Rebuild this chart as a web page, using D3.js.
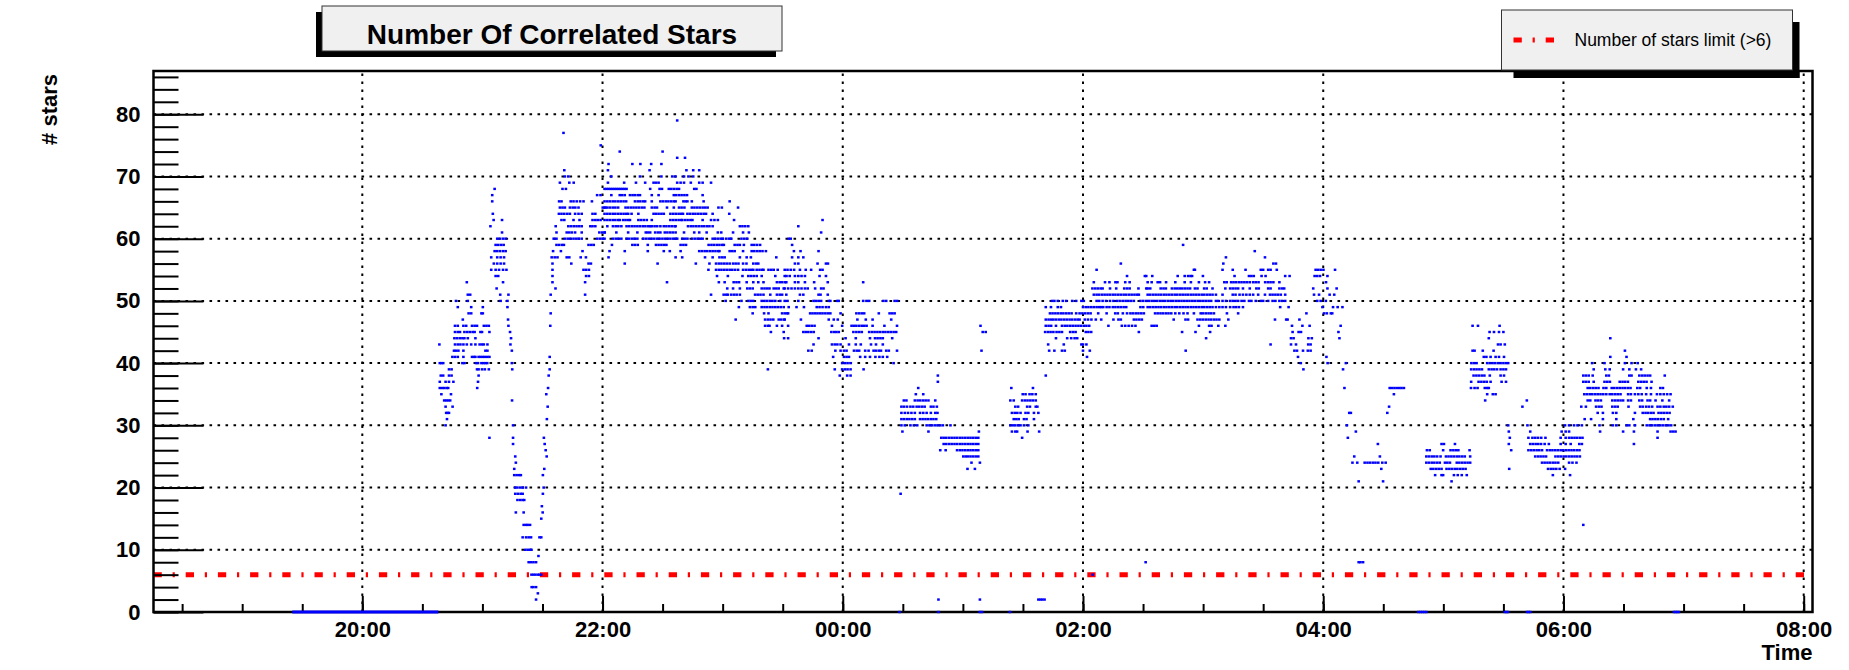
<!DOCTYPE html>
<html>
<head>
<meta charset="utf-8">
<script src="https://cdn.jsdelivr.net/npm/d3@7"></script>
<style>
  html, body { margin: 0; padding: 0; background: #ffffff; }
  svg { display: block; }
</style>
</head>
<body>
<svg id="chart" width="1849" height="670"></svg>
<script>
// ---------------- DATA ----------------
// Times are minutes after 18:00 (so 20:00 = 120, 00:00 = 360, 06:00 = 720).
// Each row: [number of stars, [times at which that value was recorded]]
const titleText = "Number Of Correlated Stars";
const legendLabel = "Number of stars limit (>6)";
const xTitle = "Time";
const yTitle = "# stars";
const xTickLabels = ["20:00", "22:00", "00:00", "02:00", "04:00", "06:00", "08:00"];
const yTickValues = [0, 10, 20, 30, 40, 50, 60, 70, 80];
const xDomainMinutes = [15.7, 844.4];
const yMax = 86.95;
const limitValue = 6;
const limitRangeMinutes = [15.7, 841.7];

// runs of consecutive zero readings: [start, end]
const zeroRuns = [[85, 158]];

// isolated low readings
const lowReadings = [
  [14, [729.9]],
  [8, [511.3, 617.7, 618.6, 619.9]],
  [6, [484.8]],
  [2, [407.8, 428.5, 457.7, 458.7, 459.7, 460.8]],
  [0, [388.4, 407.8, 428.5, 429.5, 443.5, 647.5, 648.5, 649.5, 650.5, 651.5, 690.7, 691.5, 692.2, 701.8, 702.6, 703.4, 775.2, 776, 776.8, 777.6]]
];

// 20:30 - 22:00
const evening = [
  [77, [220.5]], [75, [239.1]], [71, [220.9]], [70, [221.2, 222.9]], [69, [218.7, 223.4, 225.6]],
  [68, [186.1, 220, 221.7]], [67, [184.9, 237.3, 239]],
  [66, [184.9, 218.3, 219.5, 224.1, 225.5, 227.1, 228.8, 230.5, 234.7]],
  [65, [218.7, 220, 221.2, 223.7, 225.1, 226.4, 228, 240.1, 241.4]],
  [64, [185.2, 218.2, 219.5, 220.9, 222.4, 223.7, 226.3, 228, 229.6, 235, 236.4]],
  [63, [185.6, 189.8, 219.5, 220.9, 225.5, 228.5, 235, 236.4, 237.6, 239]],
  [62, [184, 216.6, 222.9, 224.2, 225.6, 227, 228.3, 229.6, 233.9, 235, 236.4]],
  [61, [189.8, 217, 222.1, 223.4, 224.7, 226.3, 229.6, 238.4, 239.8, 241.1]],
  [60, [187.4, 188.8, 190.3, 191.6, 215.6, 217, 221.2, 222.6, 223.9, 225.5, 226.8, 228.1, 229.6, 237.4, 238.8, 240.1]],
  [59, [186.6, 187.9, 189.3, 190.6, 217, 218.3, 219.7, 220.7, 233, 234.4, 235.6]],
  [58, [186.1, 187.4, 188.8, 190.3, 191.6, 215.3, 219.2, 230]],
  [57, [184.4, 187.4, 189.1, 190.8, 214.6, 216.1, 217.5, 222.1, 223.4, 229.1, 231.7]],
  [56, [185.7, 187.4, 189.1, 190.8, 215, 224.4, 233, 234.2]],
  [55, [184.4, 186.6, 188.3, 190.3, 192, 215, 230.5, 231.8, 233.2]],
  [54, [186.6, 187.9, 215, 231.8, 233.2]],
  [53, [172.2, 190.3, 215, 231.3]],
  [52, [187.1, 216.5]],
  [51, [172.7, 173.9, 188.9, 193, 214.1, 231.3]],
  [50, [166.8, 172.7, 189.1, 192.5]],
  [49, [167.7, 174.4, 180.2, 192.5]],
  [48, [173.1, 174.4, 179.5, 180.2, 214.1]],
  [47, [170.2, 192.8]],
  [46, [166.3, 167.7, 170.5, 171.9, 174.8, 176.1, 177.3, 180.7, 182, 183.2, 193, 213.9]],
  [45, [166.3, 167.7, 168.8, 171, 172.4, 173.7, 175.1, 176.1, 179, 179.8, 183.5, 193.8]],
  [44, [166, 167.3, 168.7, 170, 171, 172.7, 176.5, 194.3]],
  [43, [158.5, 166.3, 167.7, 169, 170.5, 172.2, 174.4, 176.5, 178.6, 179.8, 180.7, 182.5, 194]],
  [42, [165.8, 166.8, 168, 170.5, 181.5, 182.5, 194.7]],
  [41, [165, 166.3, 167.7, 170.5, 174.8, 175.8, 176.5, 178.1, 179.1, 180.2, 181.2, 182.4, 183.5, 213.6]],
  [40, [158.7, 159.5, 160.4, 170, 171, 176.8, 177.8, 179.5, 180.5, 181.5, 182.4, 194.7]],
  [39, [163.3, 164.6, 177.3, 178.1, 179.8, 181.2, 183.2, 194.9, 213.6]],
  [38, [159.2, 160.4, 163.3, 164.6, 178.1, 213.1]],
  [37, [158.7, 161.6, 163.3, 165.5, 177.8]],
  [36, [158.7, 159.9, 160.9, 162.1, 162.9, 177.4, 212.8]],
  [35, [159.5, 164.3, 211.9]],
  [34, [160.9, 161.9, 162.9, 163.9, 194.8]],
  [33, [161.6, 165.1, 212.6]],
  [32, [161.9, 162.6, 163.3]],
  [31, [162.3, 212.2]],
  [30, [161.6, 195.3]],
  [28, [183.5, 195.3, 210.7]],
  [27, [195.3, 211.1]],
  [26, [211.6]],
  [25, [196.4, 212.1]],
  [24, [196.7]],
  [23, [195.9, 210.9]],
  [22, [195.9, 197.1, 198.4, 199.2, 210.2]],
  [20, [196.4, 197.5, 198.9, 200.1, 201.8, 210.6]],
  [19, [196.4, 197.7, 199.1, 200.1, 210.2]],
  [18, [197.5, 198.9, 200.1, 200.9]],
  [17, [209.7]],
  [16, [196.7, 200.6, 210.1]],
  [15, [209.4]],
  [14, [200.6, 201.8, 202.6, 203.8]],
  [12, [200.1, 201.8, 203.1, 204.3, 208.5, 209.4]],
  [10, [201.4, 202.6, 203.8, 204.5]],
  [9, [208]],
  [8, [203.1, 204.3, 205.5, 206.8]],
  [6, [204.5, 205.5, 206.5, 207.7, 208.5, 209.4]],
  [4, [204.6, 205.5, 206.8]],
  [3, [207.7]],
  [2, [206.8]]
];

// 22:00 - 23:30
const lateEvening = [
  [79, [277.3]], [74, [248.6, 270]], [73, [277.3, 281.2]],
  [72, [243, 254.9, 258.9, 264.3, 269.4]],
  [71, [242.7, 263.5, 281.9, 285.3, 288.3]],
  [70, [244.4, 258.7, 269.4, 274.8, 276.5, 280.7, 282.9, 285.3]],
  [69, [242.7, 250.8, 256.7, 261.3, 265.5, 266.7, 268, 277.3, 279, 280.7, 284.1, 288.3, 290, 294.2]],
  [68, [241, 242, 243, 244, 245, 246, 247, 248, 249, 250, 251, 252, 263.8, 268.5, 269.7, 273.1, 274.3, 275.6, 277, 278.2, 285.8, 286.9]],
  [67, [244.4, 248.6, 249.8, 251.1, 253.7, 255, 256.2, 257.6, 258.7, 264.6, 268, 275.6, 276.8, 278.2, 279.5, 280.9, 282.2, 290]],
  [66, [241, 242.4, 243.7, 245.1, 246.4, 247.8, 249.1, 250.5, 251.8, 256.2, 257.6, 258.9, 260.3, 261.3, 264.6, 268.9, 270.2, 271.6, 272.9, 274.3, 275.6, 276.5, 280.4, 281.5, 282.4, 284.6, 290.5, 303.5]],
  [65, [241, 242.4, 243.7, 245.1, 246.4, 247.8, 251.5, 252.8, 254.2, 255.5, 256.9, 258.2, 259.6, 260.9, 264.6, 266, 267.2, 272.2, 275.6, 278.2, 279.5, 280.9, 284.6, 285.9, 287.3, 288.6, 290, 291.3, 292.5, 297.9, 299.6, 307.7]],
  [64, [241, 242.4, 243.7, 245.1, 246.4, 247.8, 249.1, 250.5, 251.8, 252.8, 254.5, 257.9, 265.5, 266.7, 268, 269.4, 270.6, 273.9, 275.3, 276.6, 278, 279.3, 280.2, 282.4, 283.7, 285.1, 286.4, 287.8, 289.1, 290.5, 291.7, 295, 303.3]],
  [63, [241, 242.4, 243.7, 245.1, 246.4, 247.8, 248.6, 250.3, 251.5, 252.8, 253.7, 257.9, 259.2, 260.6, 262.1, 264.6, 273.9, 275.3, 276.6, 278, 279.3, 279.8, 281.2, 282.5, 283.9, 284.9, 290, 294.2, 295.9, 297.6, 305.7]],
  [62, [242.4, 245.2, 246.6, 247.9, 249.4, 252, 253.3, 254.7, 256, 257.4, 258.7, 260.1, 261.4, 262.8, 263.8, 264.6, 266, 267.3, 268.9, 270.6, 271.9, 273.3, 274.6, 276, 276.5, 282.7, 284.1, 285.4, 286.8, 288.1, 289.5, 290.8, 292.2, 293.4, 295, 308.6, 309.9, 311.3, 312.8]],
  [61, [241, 246.9, 252.8, 257.4, 261.6, 262.6, 263.8, 266.3, 267.7, 268.9, 271.1, 272.4, 273.8, 275.1, 276.5, 280.7, 285.8, 288.3, 292, 297.6, 299.3, 305.2, 310.2, 313.1]],
  [60, [241, 245.2, 246.6, 247.9, 249.4, 252, 253.3, 254.7, 256, 257.4, 260.4, 261.8, 263.1, 264.5, 265.8, 267.2, 268.5, 269.9, 271.2, 272.6, 273.9, 275.3, 276.6, 277.3, 279.8, 281.2, 282.4, 284.9, 286.3, 287.6, 289, 290, 295, 296.4, 297.8, 299.1, 300.1, 301.8, 303.2, 304.3, 309.4, 310.8, 312.3]],
  [59, [244.7, 254.9, 256.2, 257.6, 262.6, 266.7, 268, 269.4, 270.7, 271.9, 279, 280.4, 281.7, 293, 294.4, 295.7, 297.1, 298.4, 299.8, 300.6, 306, 307.4, 308.6, 310.6, 314.5, 315.8, 317.2, 318.7]],
  [58, [243.5, 251.1, 262.6, 270.6, 273.6, 279, 288.3, 289.6, 291, 292.3, 293.7, 295, 296.4, 297.8, 298.4, 303.5, 304.8, 306, 310.2, 314.5, 315.8, 317.2, 318.5, 319.9, 321.6]],
  [57, [243, 276.5, 279.8, 291.2, 295, 298.4, 299.8, 301, 308.6, 312, 314.1, 326.8]],
  [56, [251.1, 267.5, 286.6, 293.4, 296.7, 298.1, 299.4, 300.8, 302.1, 303.5, 305.2, 306.5, 307.9, 310.2, 311.9, 315.3, 316.7, 317.8]],
  [55, [292.9, 296.7, 298.1, 299.4, 300.8, 302.1, 303.5, 304.8, 306.2, 307.7, 310.2, 311.6, 313, 314.3, 315.3, 317, 318.4, 319.7, 320.4, 322.9, 324.3, 325.5, 327.5]],
  [54, [297.2, 302.6, 309.9, 312.8, 314.1, 315.5, 317, 319.5, 326.3, 331.9]],
  [53, [272.2, 298.1, 301, 305.5, 306.9, 308.2, 312, 315.3, 317.8, 320.4, 327.1, 328.5, 329.8, 331.2]],
  [52, [302.3, 305.2, 308.6, 312.3, 313.6, 315, 319.5, 320.9, 322.2, 323.4, 325.5, 326.8, 328, 330.5]],
  [51, [294.2, 300.5, 301.8, 302.6, 304.3, 305.7, 307, 308.6, 316.2, 317.5, 318.9, 320.4, 323.8, 327.1, 328.5, 329.7]],
  [50, [301.5, 309.4, 312.8, 314, 315.3, 319.5, 320.9, 322.2, 323.6, 324.9, 326.3, 328.8]],
  [49, [308.1, 313.6, 315, 316.3, 319.5, 320.9, 322.2, 323.6, 324.9, 326.3, 327.6, 329, 330.5]],
  [48, [315, 320.7, 322.9, 329.7, 331, 332.2]],
  [47, [306.5, 321.2, 322.6, 323.9, 325.3, 328, 329.3, 330.7]],
  [46, [321.2, 322.6, 323.4, 327.1, 329.7]],
  [45, [324.1, 330.5]],
  [44, [330.7]],
  [39, [322.6]]
];

// 23:30 - 01:00
const midnight = [
  [63, [349.9]], [62, [337.8]], [61, [349.2]], [60, [333, 334]], [59, [334.7]],
  [58, [335.6, 338.9, 347.9]],
  [57, [334.7, 337.8, 340.3]],
  [56, [336.1, 337.8, 347.4, 351.6, 352.6]],
  [55, [331, 332.4, 334, 335.7, 338.6, 341.5, 344.2, 348.7, 349.9]],
  [54, [331, 333.5, 336.1, 337.8, 339.4, 341.1, 348.4, 351.6]],
  [53, [331.8, 336.1, 337.8, 341.1, 345.7, 352.5, 370.2]],
  [52, [331, 332.7, 334.4, 336.1, 337.8, 339.4, 341.1, 342.5, 346.2, 349.2, 350.4]],
  [51, [331.8, 338.6, 340.3, 347.9, 348.9, 352.5]],
  [50, [331, 332.4, 337.8, 345.4, 346.5, 347.9, 349.2, 353, 353.8, 357.2, 358, 370.2, 371.9, 373.2, 380.3, 381.7, 385.9, 387.2]],
  [49, [333, 336.9, 340.6, 347, 348.4, 349.9, 351.6, 353]],
  [48, [332.7, 343.7, 344.9, 346.2, 347.4, 348.7, 349.9, 351.3, 352.6, 353.8, 358.9, 366.8, 368.2, 369.5, 370.7, 378, 383.4, 384.7, 385.9]],
  [47, [331, 339.1, 353, 355.5, 357.5, 367.3, 371.5, 374.9, 384.2]],
  [46, [332.7, 342, 343.2, 344.5, 345.9, 354.6, 359.7, 364.4, 365.6, 366.8, 368.2, 369.5, 370.7, 371.9, 374.9, 380.8, 387.1]],
  [45, [340.3, 341.5, 342.8, 344.2, 345.5, 354.3, 355.7, 356.8, 358, 365.3, 366.8, 368.2, 369.5, 373.2, 374.6, 375.9, 377.3, 378.6, 380, 381.3, 382.7, 384, 385.4, 386.7]],
  [44, [332.7, 347.9, 361.4, 366.5, 373.6, 376.1, 377.4, 378.8, 380, 384.7]],
  [43, [345.4, 354.6, 356, 357.3, 358.9, 363.1, 366.5, 369, 374.1, 376.6, 380]],
  [42, [342.8, 344.5, 356.3, 358.9, 360.6, 361.9, 365.6, 367, 368.2, 371.2, 372.9, 375.4, 376.6, 378, 379.1, 381.7, 383, 387.1]],
  [41, [355.2, 360.6, 361.9, 363.1, 368.7, 371.2, 373.6, 376.3, 378.3, 380, 382.2]],
  [40, [359.7, 361.1, 362.4, 363.9, 385.4]],
  [39, [356, 359.7, 361.1, 362.4, 363.9, 370.4]],
  [38, [358.5, 362.2, 363.9, 407.5]],
  [37, [407.5]],
  [36, [397.7]],
  [35, [396.5, 400.2]],
  [34, [390.5, 391.8, 396, 397.4, 398.7, 400.1, 401.4, 402.8, 406.2]],
  [33, [389.3, 390.6, 392.1, 393.8, 395.2, 396.9, 398.2, 399.6, 400.9, 404, 405.3, 407]],
  [32, [389.3, 391, 392.6, 394.3, 396, 398.6, 400.2, 401.9, 404, 406.2, 407.3]],
  [31, [389.3, 390.6, 392, 393.3, 394.7, 396, 398.6, 399.9, 401.3, 402.6, 404, 405.3, 406.7]],
  [30, [389.3, 391, 393.8, 395.5, 397.2, 401.9, 403.3, 404.6, 406, 407.3, 408.7, 410, 413.8]],
  [29, [389.8, 402.8]],
  [28, [409.2, 410.4, 411.7, 413.1, 414.4, 415.8, 417.1, 418.5, 419.8]],
  [27, [410.4, 411.7, 413.1, 414.4, 415.8, 417.1, 418.5, 419.8]],
  [26, [408.7, 411.4, 417.1, 418.5, 419.8]],
  [25, [420.2]],
  [19, [388.9]]
];

// 01:00 - 02:30
const night = [
  [56, [498.9]], [55, [486.8]], [54, [502, 511.6]],
  [53, [485.4, 491, 493.2, 496.2, 497.2, 501.1, 503.3]],
  [52, [484.7, 486.1, 487.4, 488.8, 489.8, 493.5, 496.6, 500.6, 502, 503.3, 507.7, 511.6]],
  [51, [485.4, 486.8, 488.1, 489.5, 490.8, 492.2, 493.5, 494.9, 496.2, 497.6, 498.9, 500.3, 501.6, 503, 504.3, 505.7, 507, 507.9]],
  [50, [464.5, 465.7, 467.4, 469.9, 471.6, 474.6, 476.6, 479.2, 480.4, 486.8, 488.1, 489.8, 491.5, 493.5, 495.2, 496.9, 498.3, 499.9, 501.3, 502.6, 504, 505.4, 508.7, 510.1]],
  [49, [461.4, 464, 467.4, 469, 480, 481.4, 482.7, 484.1, 485.4, 486.8, 488.1, 489.1, 490.1, 491.8, 493.2, 494.9, 496.2, 497.6, 498.9, 500.3, 501.6, 508.7, 510.1]],
  [48, [463.5, 464.8, 466.2, 467.5, 468.9, 470.2, 471.6, 472.9, 474.3, 476.6, 478.3, 479.7, 481.1, 482.5, 483.8, 487.6, 491.8, 496.1, 497.4, 499.9, 502, 503.7, 505, 506.4, 507.7, 509.1, 510.4]],
  [47, [461.4, 462.8, 464.1, 465.2, 466.5, 467.9, 469.2, 470.6, 471.9, 473.3, 474.6, 476, 477.3, 478.3, 480.9, 482.5, 484.2, 486.4, 489.1, 495.2, 497.7, 498.9, 505.4, 506.7, 508.1, 509.4]],
  [46, [428.8, 461.4, 462.8, 464.1, 466.5, 469.5, 470.9, 472.2, 473.6, 474.9, 476.3, 477.7, 479, 480.4, 481.7, 483.1, 492.7, 499.4, 501.1, 502.8, 504.5, 506.2]],
  [45, [429.9, 431.4, 461.1, 462.5, 463.8, 465.2, 466.8, 468.2, 469.5, 473.6, 475, 476.3, 481.4, 482.7, 484.1, 507.9]],
  [44, [466.5, 472.1, 474.1, 475.8, 477.1]],
  [43, [462.6, 470.4, 479.2, 480, 481.7]],
  [42, [429.3, 463.1, 465.7, 469.5, 470.9, 480, 483.4]],
  [41, [482]],
  [38, [461.4]],
  [36, [444.2, 455]],
  [35, [449.9, 451.3, 453.3, 454.7, 456.4]],
  [34, [443.7, 445.4, 449.6, 451, 452.3, 453.7, 455, 456.4]],
  [33, [446.2, 447.6, 452.1, 453.5, 456.4, 457.2]],
  [32, [444.5, 445.9, 447.2, 448.8, 451.3, 452.7, 455.5, 457.7]],
  [31, [445.4, 446.7, 447.9, 450.5, 451.8, 455.5]],
  [30, [443.7, 445.1, 446.2, 447.6, 448.8, 450.5, 452.7]],
  [29, [428, 444.5, 446.2, 447.1, 452.3, 458.1]],
  [28, [421.2, 422.5, 423.8, 425.1, 426.4, 427.7, 449.6]],
  [27, [421.2, 422.5, 423.8, 425.1, 426.4, 427.7]],
  [26, [421.2, 422.5, 423.8, 425.1, 426.4, 427.7]],
  [25, [421.4, 422.5, 423.8, 425.1, 426.4, 427.7]],
  [24, [424.3, 428.5]],
  [23, [422.3, 426]]
];

// 02:30 - 04:00
const earlyMorning = [
  [59, [530]], [58, [565.8]], [57, [551.4, 570.9]], [56, [550.1, 575.1, 576.4]],
  [55, [535.4, 535.9, 549.7, 554.8, 561.2, 568.8, 570, 572.5, 573.7, 576.8, 596.2, 597.4, 598.7, 600.1]],
  [54, [510.9, 514.6, 527.3, 530.8, 532.5, 533.7, 534.5, 539.9, 555.7, 562.9, 564.1, 565.3, 569.2, 571.2, 581, 583.2, 595.7, 597, 598.4, 602.1]],
  [53, [512.3, 514.3, 517.3, 518.5, 521.5, 526.1, 530.8, 533.9, 537.9, 541, 543, 550.6, 551.8, 554, 555.2, 556.5, 557.9, 559.2, 560.6, 561.9, 563.3, 565, 566.3, 567.7, 571, 572.4, 573.7, 575.1, 578.1, 601.4]],
  [52, [512.3, 513.6, 518.8, 520.2, 521.4, 524.4, 525.8, 527.1, 528.3, 529.5, 530.8, 532.2, 533.5, 535.9, 537.2, 540.5, 541.8, 544.7, 551.1, 553.5, 554.8, 556.2, 557.5, 559.9, 563.3, 566.6, 567.8, 572.5, 573.7, 578.1, 579.5, 580.5, 595, 602.1]],
  [51, [512.3, 513.6, 515, 516.3, 517.7, 519, 520.4, 521.7, 523.1, 524.4, 525.8, 527.1, 528.5, 529.8, 531.2, 532.5, 533.9, 535.2, 536.6, 537.9, 539.3, 540.6, 542, 543.3, 544.7, 546.4, 549.7, 554.8, 556.2, 558.2, 559.9, 561.6, 563.3, 565, 567.5, 570.9, 573.4, 574.7, 576.1, 577.4, 578.8, 581, 595.4, 597.9]],
  [50, [511.6, 512.9, 514.3, 515.6, 517, 518.4, 519.7, 521, 522.4, 523.8, 525.1, 526.5, 527.8, 529.2, 530.5, 531.9, 533.2, 534.6, 535.9, 537.3, 538.6, 540, 541.3, 542.7, 544, 546.4, 547.6, 549.7, 551.4, 553.5, 554.8, 556.2, 557.5, 559.2, 560.6, 562.9, 564.1, 566.3, 568.8, 570, 572.5, 574.7, 576.1, 578.1, 579.5, 581, 597, 598.7, 601.3]],
  [49, [512.3, 513.6, 515, 516.3, 517.7, 519, 520.4, 521.7, 523.1, 524.4, 525.8, 527.1, 528.5, 529.8, 531.2, 532.5, 533.9, 535.2, 536.6, 537.9, 539.3, 540.6, 542, 543.3, 544.7, 546.4, 548.1, 549.7, 551.4, 553.5, 555.2, 556.5, 557.9, 559.9, 578.5, 582.7, 599.6]],
  [48, [516, 517.3, 518.7, 520, 521.4, 522.7, 524.1, 526.1, 528.1, 530.2, 532.2, 535.4, 538.8, 539.9, 541.3, 542.7, 544, 545.4, 551.9, 557.5, 591.6, 600.4, 601.8]],
  [47, [525.3, 531.2, 532.5, 537.2, 538.6, 539.9, 541.3, 542.7, 544, 545.4, 546.7, 548.1, 552.6, 575.9, 581.5, 582.2, 588.1]],
  [46, [514.3, 515.6, 516.8, 537.9, 543, 544.2, 547.6, 551.1, 584.4, 589.6, 593.2]],
  [45, [529.5, 536.2, 543.5, 584.7, 587.7, 588.9]],
  [44, [541.5, 583.9, 585.2, 592.6, 594.3]],
  [43, [573.7, 583.9, 586.4, 592.5, 593.7]],
  [42, [531.3, 585.6, 586.9, 589.9, 592.3, 593.7]],
  [41, [587.4]], [40, [588.8]], [39, [590.1]]
];

// 04:00 - 05:30
const dawn = [
  [55, [605.9]], [52, [606.7]], [51, [603.2, 605.5]], [49, [604.9, 607.2, 609.6]],
  [48, [603.8, 604.5]], [46, [608.7, 674.6, 677.3, 688.1]], [45, [607.6, 683.1, 685.3, 687.8, 690]],
  [44, [608.1, 682.7]], [43, [687.3, 688.6, 690.7]], [42, [674.6, 675.6, 679.7, 685.1]],
  [41, [601.6, 680.2, 681.5, 683.6, 686.1, 687.8, 690.3]],
  [40, [602.2, 611.3, 674, 675.3, 676.6, 681.9, 683.2, 684.6, 685.9, 687.3, 688.6, 690, 691.3, 692.4]],
  [39, [609.9, 673.9, 675.3, 676.6, 678, 679.3, 682.7, 684.1, 685.4, 686.8, 688.6, 690, 691.3]],
  [38, [675.1, 676.5, 677.8, 679.2, 680.5, 683.2, 688.6, 690.3]],
  [37, [673.9, 677.6, 679, 680.4, 681.7, 683.6, 689.1, 691.3]],
  [36, [610.6, 633.2, 634.4, 635.6, 636.8, 638, 639.1, 640.3, 673.8, 675.6, 677.1, 680.7, 681.9, 682.7]],
  [35, [635.3, 681.9, 684.7, 686.1]],
  [34, [680.9]],
  [33, [632.9]],
  [32, [613, 613.8, 632]],
  [30, [611.8]], [29, [616.3]], [28, [612.3]],
  [27, [627.3, 659.1, 660.3, 665.8]],
  [26, [651.8, 653.2, 659.9, 663.6, 665, 666.3, 667.5, 673.1]],
  [25, [615.5, 628.3, 651.5, 652.8, 654.2, 655.5, 656.9, 658.6, 661.3, 662.6, 664, 665.3, 666.7, 668, 669.4, 670.7, 673.4]],
  [24, [614.6, 617, 620.7, 622.1, 623.4, 624.8, 626.1, 627.5, 629.5, 631.2, 651.5, 652.8, 654.2, 655.5, 656.9, 658.2, 660.8, 662, 663.3, 666.7, 668, 669.4, 670.7, 672.1, 673.4]],
  [23, [629, 653.7, 655, 656.4, 657.7, 659.1, 661.6, 663, 664.3, 665.7, 667, 668.4, 669.7, 671.1]],
  [22, [655.9, 659.1, 659.9, 665.3, 667.2, 669.2, 671.7]],
  [21, [617.7, 629.9, 664.1]]
];

// 05:30 - 07:00
const morning = [
  [44, [743.4]], [42, [750.7]], [41, [743.4, 751.5]],
  [40, [734.3, 740.5, 750.7, 754, 757.1]],
  [39, [735.1, 740.9, 743.1, 749.8, 752.9, 756.2, 758.8]],
  [38, [729.9, 731.2, 732.6, 734.6, 741.4, 742.7, 752.9, 754, 757.9, 759.3, 760.6, 762, 763.3, 770.6]],
  [37, [729.9, 731.2, 732.6, 735.1, 740.5, 741.9, 743.2, 748.1, 749.5, 750.8, 752.2, 757.4, 758.8, 760.1, 761.5, 764]],
  [36, [732.1, 733.4, 734.8, 736.1, 737.5, 740, 741.4, 744.1, 745.4, 746.8, 748.1, 749.5, 750.8, 752.2, 753.5, 756.9, 758.3, 761.6, 763.7, 768.4, 769.7]],
  [35, [730.4, 731.7, 733.1, 734.4, 735.8, 737.1, 738.5, 739.9, 741.4, 743.1, 744.4, 745.8, 747.1, 748.5, 752.3, 753.7, 755.7, 757.4, 759.1, 761.3, 763.7, 766.7, 768.4, 770.1, 771.8, 773.5]],
  [34, [701.7, 732.1, 733.4, 736, 737.3, 738.7, 744.4, 745.8, 747.1, 748.5, 749.8, 752.3, 753.7, 757.9, 759.3, 762, 763.3, 766, 769.4, 772.8]],
  [33, [699.5, 728.9, 731.2, 736.3, 737.7, 739, 744.4, 745.8, 747.1, 752.5, 758.3, 759.6, 761.3, 762.7, 764.3, 767, 768.4, 770.1, 771.4, 772.8, 774.6]],
  [32, [737.1, 739.7, 744.7, 746.4, 755.7, 759.6, 761, 762.3, 763.7, 765, 767.5, 768.9, 770.2, 771.6, 773]],
  [31, [730.6, 733.8, 739.7, 746.4, 754.9, 763.3, 764.5, 765.9, 767.2, 768.7, 770.1, 772.3]],
  [30, [692.4, 702, 720.8, 722.8, 725.3, 727, 729.2, 738, 744.7, 746.4, 751.5, 752.9, 755.7, 761.6, 763, 764.3, 765.7, 767, 768.4, 769.7, 771.1, 772.5, 773.8]],
  [29, [692.7, 703.4, 719.1, 721.1, 722.8, 738.3, 749.8, 755.2, 767, 773.5, 774.8, 776]],
  [28, [693.2, 702.5, 704.5, 705.9, 707.3, 708.9, 711, 718.6, 721.1, 722.8, 724.1, 725.5, 726.8, 728.2, 729.5, 767]],
  [27, [692.7, 703.4, 704.7, 706.1, 707.4, 708.8, 710.6, 712.7, 718.6, 721.1, 723.6, 727.9, 729.2, 755.2]],
  [26, [693.9, 702.5, 703.9, 705.2, 706.6, 707.9, 709.3, 711.8, 713.2, 714.5, 715.9, 717.2, 718.6, 719.9, 721.3, 722.6, 724, 725.3, 726.7, 728]],
  [25, [705.9, 707.3, 708.6, 710, 711.3, 716, 717.4, 718.7, 720.1, 721.4, 722.8, 724.1, 725.5, 726.8, 728.2]],
  [24, [709.3, 710.6, 712, 713.3, 714.7, 716, 717.4, 722.8, 724.5, 726.5]],
  [23, [692.9, 712.3, 713.7, 715, 716.4, 718.1, 720.8]],
  [22, [714.7, 723.3]]
];

// ---------------- DRAWING ----------------
const W = 1849, H = 670;
const frame = { left: 153.5, right: 1812.5, top: 71, bottom: 612 };
const FONT = "'Liberation Sans', Arial, Helvetica, sans-serif";

const base = new Date(2000, 0, 1, 18, 0, 0).getTime();
const toDate = m => new Date(base + m * 60000);
const labelToMinutes = s => {
  const [h, mi] = s.split(":").map(Number);
  let m = (h - 18) * 60 + mi;
  if (m < 0) m += 24 * 60;
  return m;
};

const x = d3.scaleTime()
  .domain(xDomainMinutes.map(toDate))
  .range([frame.left, frame.right]);
const y = d3.scaleLinear()
  .domain([0, yMax])
  .range([frame.bottom, frame.top]);

const svg = d3.select("#chart");
svg.append("rect").attr("width", W).attr("height", H).attr("fill", "#ffffff");

const xMajorDates = xTickLabels.map(s => toDate(labelToMinutes(s)));

// grid (dotted)
const grid = svg.append("g").attr("stroke", "#000").attr("stroke-width", 2)
  .attr("stroke-dasharray", "2.6,5.4").attr("fill", "none");
grid.selectAll("line.gx").data(xMajorDates).join("line").attr("class", "gx")
  .attr("x1", d => x(d)).attr("x2", d => x(d))
  .attr("y1", frame.bottom).attr("y2", frame.top);
grid.selectAll("line.gy").data(yTickValues.filter(v => v > 0)).join("line").attr("class", "gy")
  .attr("x1", frame.left).attr("x2", frame.right)
  .attr("y1", d => y(d)).attr("y2", d => y(d));

// limit line
svg.append("line")
  .attr("x1", x(toDate(limitRangeMinutes[0]))).attr("x2", x(toDate(limitRangeMinutes[1])))
  .attr("y1", y(limitValue)).attr("y2", y(limitValue))
  .attr("stroke", "#ff0000").attr("stroke-width", 5)
  .attr("stroke-dasharray", "8.3,10.8,2.2,10.9");

// axes
function styleAxis(g) {
  g.select(".domain").remove();
  g.selectAll(".tick line").attr("stroke", "#000").attr("stroke-width", 2);
  g.selectAll(".tick text").attr("fill", "#000")
    .attr("font-family", FONT).attr("font-size", 22).attr("font-weight", "bold");
}
svg.append("g").attr("transform", `translate(0,${frame.bottom})`)
  .call(d3.axisBottom(x).ticks(d3.timeMinute.every(30)).tickSize(-8).tickFormat(""))
  .call(styleAxis);
svg.append("g").attr("transform", `translate(0,${frame.bottom})`)
  .call(d3.axisBottom(x).tickValues(xMajorDates).tickSize(-16).tickPadding(9)
    .tickFormat((d, i) => xTickLabels[i]))
  .call(styleAxis);
svg.append("g").attr("transform", `translate(${frame.left},0)`)
  .call(d3.axisLeft(y).tickValues(d3.range(0, yMax, 2)).tickSize(-25).tickFormat(""))
  .call(styleAxis);
svg.append("g").attr("transform", `translate(${frame.left},0)`)
  .call(d3.axisLeft(y).tickValues(yTickValues).tickSize(-50).tickPadding(13).tickFormat(d3.format("d")))
  .call(styleAxis);

// frame
svg.append("rect")
  .attr("x", frame.left).attr("y", frame.top)
  .attr("width", frame.right - frame.left).attr("height", frame.bottom - frame.top)
  .attr("fill", "none").attr("stroke", "#000").attr("stroke-width", 2.5);

// data points
const segments = [evening, lateEvening, midnight, night, earlyMorning, dawn, morning, lowReadings];
const points = [];
segments.forEach(seg => seg.forEach(([v, ts]) => ts.forEach(t => points.push({ t, v }))));

svg.append("g").selectAll("line").data(zeroRuns).join("line")
  .attr("x1", d => x(toDate(d[0]))).attr("x2", d => x(toDate(d[1])))
  .attr("y1", y(0)).attr("y2", y(0))
  .attr("stroke", "#0000ff").attr("stroke-width", 3);

svg.append("g").attr("fill", "#0000ff").selectAll("rect").data(points).join("rect")
  .attr("x", d => x(toDate(d.t)) - 1.3)
  .attr("y", d => y(d.v) - 1.2)
  .attr("width", 2.6).attr("height", 2.4);

// title box (shadow bottom-left)
const tb = { x: 322, y: 6, w: 460, h: 45, s: 6 };
svg.append("rect").attr("x", tb.x - tb.s).attr("y", tb.y + tb.s)
  .attr("width", tb.w).attr("height", tb.h).attr("fill", "#000");
svg.append("rect").attr("x", tb.x).attr("y", tb.y).attr("width", tb.w).attr("height", tb.h)
  .attr("fill", "#f0f0f0").attr("stroke", "#333").attr("stroke-width", 1);
svg.append("text").attr("x", tb.x + tb.w / 2).attr("y", 43.5)
  .attr("text-anchor", "middle").attr("font-family", FONT)
  .attr("font-size", 28).attr("font-weight", "bold").attr("fill", "#000")
  .text(titleText);

// legend box (shadow bottom-right)
const lb = { x: 1501.5, y: 10, w: 291, h: 60 };
svg.append("rect").attr("x", lb.x + lb.w).attr("y", lb.y + 12).attr("width", 7).attr("height", lb.h - 4)
  .attr("fill", "#000");
svg.append("rect").attr("x", lb.x + 12).attr("y", lb.y + lb.h).attr("width", lb.w - 5).attr("height", 8)
  .attr("fill", "#000");
svg.append("rect").attr("x", lb.x).attr("y", lb.y).attr("width", lb.w).attr("height", lb.h)
  .attr("fill", "#f0f0f0").attr("stroke", "#333").attr("stroke-width", 1);
svg.append("line").attr("x1", lb.x + 12).attr("x2", lb.x + 53)
  .attr("y1", lb.y + 30).attr("y2", lb.y + 30)
  .attr("stroke", "#ff0000").attr("stroke-width", 5)
  .attr("stroke-dasharray", "8.3,10.8,2.2,10.9");
svg.append("text").attr("x", lb.x + 73).attr("y", lb.y + 36)
  .attr("font-family", FONT).attr("font-size", 17.5).attr("fill", "#000")
  .text(legendLabel);

// axis titles
svg.append("text").attr("x", frame.right).attr("y", 660)
  .attr("text-anchor", "end").attr("font-family", FONT)
  .attr("font-size", 22).attr("font-weight", "bold").attr("fill", "#000")
  .text(xTitle);
svg.append("text").attr("transform", `translate(57,74) rotate(-90)`)
  .attr("text-anchor", "end").attr("font-family", FONT)
  .attr("font-size", 22).attr("font-weight", "bold").attr("fill", "#000")
  .text(yTitle);
</script>
</body>
</html>
